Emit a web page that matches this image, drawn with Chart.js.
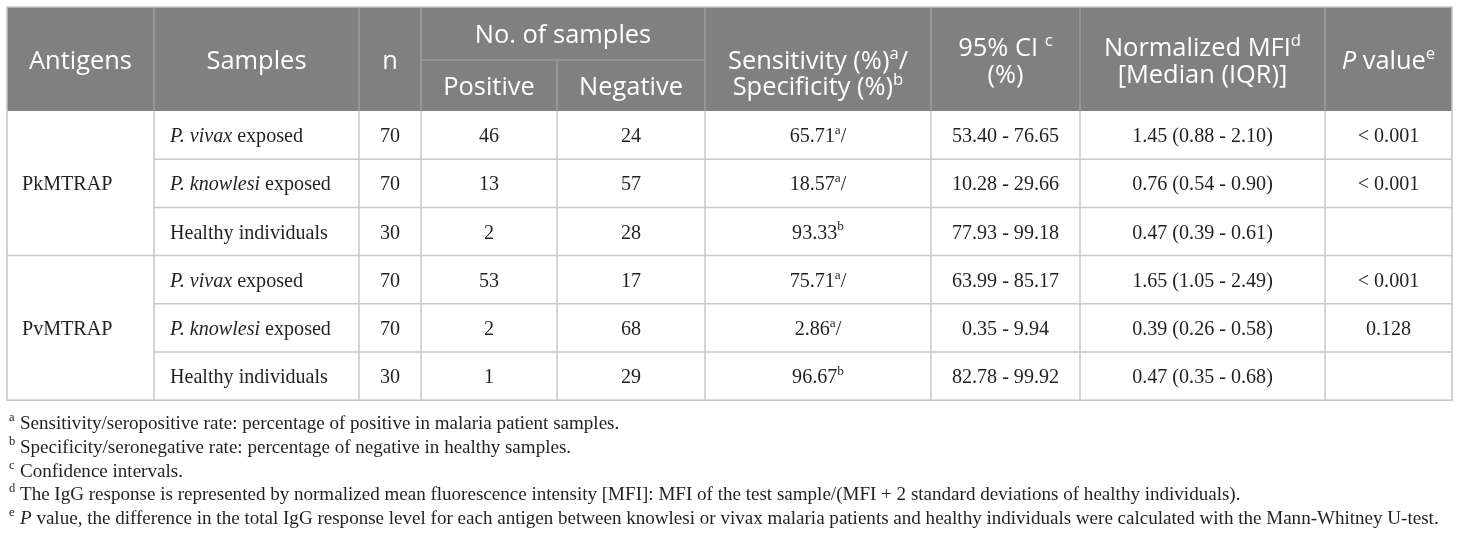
<!DOCTYPE html>
<html>
<head>
<meta charset="utf-8">
<script src="https://cdn.jsdelivr.net/npm/chart.js@4.4.1/dist/chart.umd.min.js"></script>
<style>
html,body{margin:0;padding:0;background:#fff;}
#wrap{width:1460px;height:537px;position:relative;}
</style>
</head>
<body>
<div id="wrap"><canvas id="c"></canvas></div>
<script>
// ---------- DATA ----------
const antigens = ["PkMTRAP", "PvMTRAP"];
const sampleGroups = [
  [{t:"P. vivax", i:true},{t:" exposed"}],
  [{t:"P. knowlesi", i:true},{t:" exposed"}],
  [{t:"Healthy individuals"}]
];
const nValues   = [70, 70, 30, 70, 70, 30];
const positive  = [46, 13, 2, 53, 2, 1];
const negative  = [24, 57, 28, 17, 68, 29];
const sensSpec  = [65.71, 18.57, 93.33, 75.71, 2.86, 96.67];
const sensMark  = ["a", "a", "b", "a", "a", "b"];
const ciLow     = [53.40, 10.28, 77.93, 63.99, 0.35, 82.78];
const ciHigh    = [76.65, 29.66, 99.18, 85.17, 9.94, 99.92];
const mfiMedian = [1.45, 0.76, 0.47, 1.65, 0.39, 0.47];
const mfiQ1     = [0.88, 0.54, 0.39, 1.05, 0.26, 0.35];
const mfiQ3     = [2.10, 0.90, 0.61, 2.49, 0.58, 0.68];
const pValues   = ["< 0.001", "< 0.001", "", "< 0.001", "0.128", ""];

const footnoteMarks = ["a", "b", "c", "d", "e"];
const footnotes = [
  [{t:"Sensitivity/seropositive rate: percentage of positive in malaria patient samples."}],
  [{t:"Specificity/seronegative rate: percentage of negative in healthy samples."}],
  [{t:"Confidence intervals."}],
  [{t:"The IgG response is represented by normalized mean fluorescence intensity [MFI]: MFI of the test sample/(MFI + 2 standard deviations of healthy individuals)."}],
  [{t:"P", i:true},{t:" value, the difference in the total IgG response level for each antigen between knowlesi or vivax malaria patients and healthy individuals were calculated with the Mann-Whitney U-test."}]
];

// ---------- LAYOUT ----------
const colW = [147, 205, 62, 136, 148, 226, 149, 245, 127];
const colEdge = [0]; colW.forEach(w => colEdge.push(colEdge[colEdge.length-1] + w));
const hdrH = [53, 51];
const rowH = 48.2;
const tableTop = 0;
const hdrBottom = hdrH[0] + hdrH[1];
const rowEdge = []; for (let r = 0; r <= 6; r++) rowEdge.push(hdrBottom + r * rowH);
const footY = [415, 439, 463, 486, 510]; // centers in y units
const Y_MAX = 523;

const SANS = "'Open Sans', 'Noto Sans', sans-serif";
const SERIF = "'Liberation Serif', 'DejaVu Serif', serif";

function fitSize(ctx, family, segs, target) {
  let s = 20;
  const w = richWidth(ctx, segs, s, family);
  return s * target / w;
}
function segFont(seg, size, family) {
  const sz = seg.s ? size * 0.66 : size;
  return (seg.i ? "italic " : "") + sz.toFixed(2) + "px " + family;
}
function richWidth(ctx, segs, size, family) {
  let w = 0;
  segs.forEach(seg => { ctx.font = segFont(seg, size, family); w += ctx.measureText(seg.t).width; });
  return w;
}
function drawRich(ctx, segs, x, yc, align, size, family, color) {
  const total = richWidth(ctx, segs, size, family);
  let cx = align === "center" ? x - total / 2 : x;
  const base = yc + size * 0.35;
  ctx.fillStyle = color;
  ctx.textAlign = "left";
  ctx.textBaseline = "alphabetic";
  segs.forEach(seg => {
    ctx.font = segFont(seg, size, family);
    const yy = seg.s ? base - size * 0.4 : base;
    ctx.fillText(seg.t, cx, yy);
    cx += ctx.measureText(seg.t).width;
  });
}

const tablePlugin = {
  id: "tablePlugin",
  afterDraw(chart) {
    const ctx = chart.ctx;
    const X = v => chart.scales.x.getPixelForValue(v);
    const Y = v => chart.scales.y.getPixelForValue(v);
    const bodySize = fitSize(ctx, SERIF, [{t:"Healthy individuals"}], 158);
    const hdrSize = fitSize(ctx, SANS, [{t:"Antigens"}], 103);
    const footSize = fitSize(ctx, SERIF, footnotes[4], 1420);
    const ink = "#231f20";

    ctx.save();
    // header background
    ctx.fillStyle = "#808080";
    ctx.fillRect(X(colEdge[0]), Y(tableTop), X(colEdge[9]) - X(colEdge[0]), Y(hdrBottom) - Y(tableTop));

    // header inner lines
    ctx.strokeStyle = "#a3a3a3";
    ctx.lineWidth = 1.2;
    const line = (x1, y1, x2, y2) => { ctx.beginPath(); ctx.moveTo(x1, y1); ctx.lineTo(x2, y2); ctx.stroke(); };
    for (let c = 1; c < 9; c++) {
      if (c === 4) line(X(colEdge[c]), Y(hdrH[0]), X(colEdge[c]), Y(hdrBottom));
      else line(X(colEdge[c]), Y(tableTop), X(colEdge[c]), Y(hdrBottom));
    }
    line(X(colEdge[3]), Y(hdrH[0]), X(colEdge[5]), Y(hdrH[0]));

    // body lines
    ctx.strokeStyle = "#c9c9c9";
    ctx.lineWidth = 1.5;
    for (let c = 1; c < 9; c++) line(X(colEdge[c]), Y(hdrBottom), X(colEdge[c]), Y(rowEdge[6]));
    for (let r = 1; r < 6; r++) {
      const x0 = r === 3 ? colEdge[0] : colEdge[1];
      line(X(x0), Y(rowEdge[r]), X(colEdge[9]), Y(rowEdge[r]));
    }
    // outer border
    ctx.strokeStyle = "#c3c3c3";
    ctx.strokeRect(X(colEdge[0]), Y(tableTop), X(colEdge[9]) - X(colEdge[0]), Y(rowEdge[6]) - Y(tableTop));

    // header text
    const W = "#ffffff";
    const cmid = c => (X(colEdge[c]) + X(colEdge[c + 1])) / 2;
    drawRich(ctx, [{t:"Antigens"}], cmid(0), Y(53), "center", hdrSize, SANS, W);
    drawRich(ctx, [{t:"Samples"}], cmid(1), Y(53), "center", hdrSize, SANS, W);
    drawRich(ctx, [{t:"n"}], cmid(2), Y(53), "center", hdrSize, SANS, W);
    drawRich(ctx, [{t:"No. of samples"}], (X(colEdge[3]) + X(colEdge[5])) / 2, Y(27), "center", hdrSize, SANS, W);
    drawRich(ctx, [{t:"Positive"}], cmid(3), Y(79), "center", hdrSize, SANS, W);
    drawRich(ctx, [{t:"Negative"}], cmid(4), Y(79), "center", hdrSize, SANS, W);
    drawRich(ctx, [{t:"Sensitivity (%)"},{t:"a",s:true},{t:"/"}], cmid(5), Y(53), "center", hdrSize, SANS, W);
    drawRich(ctx, [{t:"Specificity (%)"},{t:"b",s:true}], cmid(5), Y(79), "center", hdrSize, SANS, W);
    drawRich(ctx, [{t:"95% CI "},{t:"c",s:true}], cmid(6), Y(40), "center", hdrSize, SANS, W);
    drawRich(ctx, [{t:"(%)"}], cmid(6), Y(67), "center", hdrSize, SANS, W);
    drawRich(ctx, [{t:"Normalized MFI"},{t:"d",s:true}], cmid(7), Y(40), "center", hdrSize, SANS, W);
    drawRich(ctx, [{t:"[Median (IQR)]"}], cmid(7), Y(67), "center", hdrSize, SANS, W);
    drawRich(ctx, [{t:"P",i:true},{t:" value"},{t:"e",s:true}], cmid(8), Y(53), "center", hdrSize, SANS, W);

    // body text
    for (let r = 0; r < 6; r++) {
      const yc = Y((rowEdge[r] + rowEdge[r + 1]) / 2);
      drawRich(ctx, sampleGroups[r % 3], X(colEdge[1]) + 16, yc, "left", bodySize, SERIF, ink);
      drawRich(ctx, [{t:String(nValues[r])}], cmid(2), yc, "center", bodySize, SERIF, ink);
      drawRich(ctx, [{t:String(positive[r])}], cmid(3), yc, "center", bodySize, SERIF, ink);
      drawRich(ctx, [{t:String(negative[r])}], cmid(4), yc, "center", bodySize, SERIF, ink);
      const ss = [{t:sensSpec[r].toFixed(2)},{t:sensMark[r],s:true}];
      if (sensMark[r] === "a") ss.push({t:"/"});
      drawRich(ctx, ss, cmid(5), yc, "center", bodySize, SERIF, ink);
      drawRich(ctx, [{t:ciLow[r].toFixed(2) + " - " + ciHigh[r].toFixed(2)}], cmid(6), yc, "center", bodySize, SERIF, ink);
      drawRich(ctx, [{t:mfiMedian[r].toFixed(2) + " (" + mfiQ1[r].toFixed(2) + " - " + mfiQ3[r].toFixed(2) + ")"}], cmid(7), yc, "center", bodySize, SERIF, ink);
      if (pValues[r]) drawRich(ctx, [{t:pValues[r]}], cmid(8), yc, "center", bodySize, SERIF, ink);
    }
    antigens.forEach((a, g) => {
      const yc = Y((rowEdge[g * 3] + rowEdge[g * 3 + 3]) / 2);
      drawRich(ctx, [{t:a}], X(colEdge[0]) + 15, yc, "left", bodySize, SERIF, ink);
    });

    // footnotes
    footnotes.forEach((f, k) => {
      const yc = Y(footY[k]);
      drawRich(ctx, [{t:footnoteMarks[k], s:true}], 9, yc, "left", footSize, SERIF, ink);
      drawRich(ctx, f, 20, yc, "left", footSize, SERIF, ink);
    });
    ctx.restore();
  }
};

new Chart(document.getElementById("c"), {
  type: "scatter",
  data: { datasets: [] },
  options: {
    responsive: true,
    maintainAspectRatio: false,
    animation: false,
    layout: { padding: { left: 7, right: 8, top: 7, bottom: 7 } },
    plugins: { legend: { display: false }, tooltip: { enabled: false } },
    scales: {
      x: { type: "linear", min: 0, max: colEdge[9], display: false },
      y: { type: "linear", min: 0, max: Y_MAX, reverse: true, display: false }
    }
  },
  plugins: [tablePlugin]
});
</script>
</body>
</html>
